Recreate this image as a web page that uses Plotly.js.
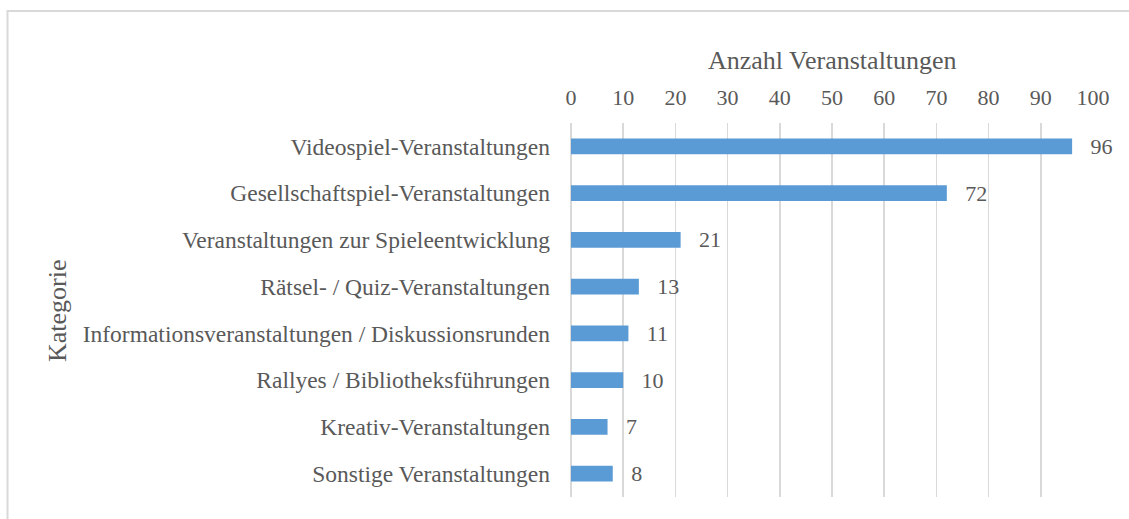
<!DOCTYPE html>
<html>
<head>
<meta charset="utf-8">
<script src="https://cdn.plot.ly/plotly-3.0.1.min.js"></script>
<style>
  html, body { margin: 0; padding: 0; background: #ffffff; }
  #chart { width: 1129px; height: 519px; }
</style>
</head>
<body>
<div id="chart"></div>
<script>
const categories = [
  "Videospiel-Veranstaltungen",
  "Gesellschaftspiel-Veranstaltungen",
  "Veranstaltungen zur Spieleentwicklung",
  "Rätsel- / Quiz-Veranstaltungen",
  "Informationsveranstaltungen / Diskussionsrunden",
  "Rallyes / Bibliotheksführungen",
  "Kreativ-Veranstaltungen",
  "Sonstige Veranstaltungen"
];
const counts = [96, 72, 21, 13, 11, 10, 7, 8];
const xTickValues = [0, 10, 20, 30, 40, 50, 60, 70, 80, 90, 100];
const xAxisTitle = "Anzahl Veranstaltungen";
const yAxisTitle = "Kategorie";

const fontFamily = "'Liberation Serif', 'DejaVu Serif', serif";
const textColor = "#595959";
const gridColor = "#d9d9d9";

const trace = {
  type: "bar",
  orientation: "h",
  x: counts,
  y: categories,
  marker: { color: "#5b9bd5" },
  text: counts.map(String),
  texttemplate: "\u00a0\u00a0\u2009%{text}",
  textposition: "outside",
  cliponaxis: false,
  constraintext: "none",
  textfont: { family: fontFamily, size: 22, color: textColor },
  hoverinfo: "x+y"
};

const layout = {
  width: 1129,
  height: 519,
  margin: { l: 571, r: 36, t: 123, b: 22 },
  paper_bgcolor: "#ffffff",
  plot_bgcolor: "#ffffff",
  showlegend: false,
  bargap: 0.66,
  font: { family: fontFamily, size: 23, color: textColor },
  xaxis: {
    side: "top",
    range: [0, 100],
    tickvals: xTickValues,
    ticktext: xTickValues.map(String),
    showgrid: true,
    gridcolor: gridColor,
    gridwidth: 1.5,
    zeroline: true,
    zerolinecolor: gridColor,
    zerolinewidth: 1.5,
    showline: false,
    ticks: "",
    ticklabelstandoff: 13,
    tickfont: { family: fontFamily, size: 22, color: textColor },
    fixedrange: true
  },
  yaxis: {
    autorange: "reversed",
    showgrid: false,
    zeroline: false,
    showline: false,
    ticks: "",
    ticklabelstandoff: 20,
    tickfont: { family: fontFamily, size: 23.5, color: textColor },
    fixedrange: true
  },
  annotations: [
    {
      text: xAxisTitle,
      xref: "paper", yref: "paper",
      x: 0.5, y: 1.168,
      xanchor: "center", yanchor: "middle",
      showarrow: false,
      font: { family: fontFamily, size: 26, color: textColor }
    },
    {
      text: yAxisTitle,
      xref: "paper", yref: "paper",
      x: -0.9847, y: 0.5,
      xanchor: "center", yanchor: "middle",
      textangle: -90,
      showarrow: false,
      font: { family: fontFamily, size: 26, color: textColor }
    }
  ],
  shapes: [
    {
      type: "rect",
      xref: "paper", yref: "paper",
      x0: -1.0795, x1: 1.3,
      y0: -0.3, y1: 1.2995,
      line: { color: gridColor, width: 2 },
      fillcolor: "rgba(0,0,0,0)",
      layer: "below"
    }
  ]
};

Plotly.newPlot("chart", [trace], layout, { displayModeBar: false, staticPlot: true });
</script>
</body>
</html>
